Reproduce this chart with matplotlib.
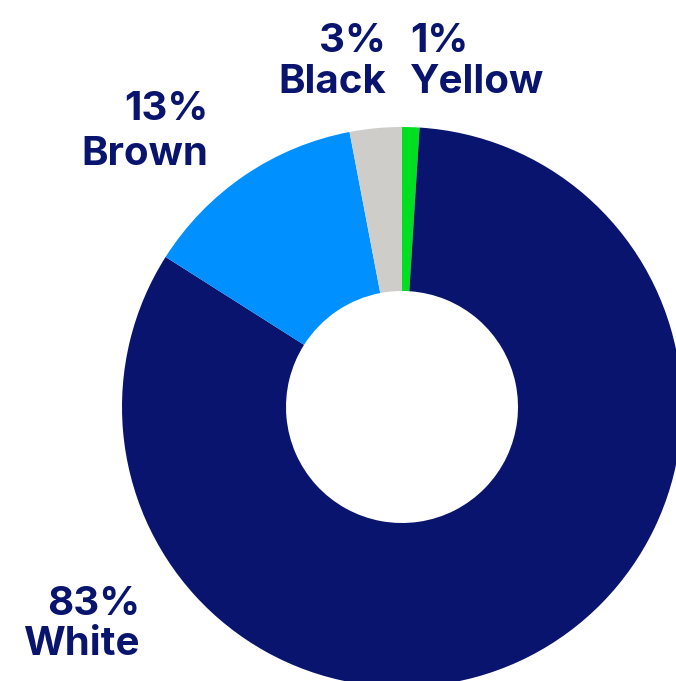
import matplotlib
matplotlib.use("Agg")
import matplotlib.pyplot as plt

plt.rcParams["font.family"] = ["Inter", "DejaVu Sans"]

# Data, clockwise from 12 o'clock
categories = ["Yellow", "White", "Brown", "Black"]
shares = [1, 83, 13, 3]
colors = ["#00e020", "#08146e", "#0090ff", "#cfcdca"]

NAVY = "#08146e"
W, H = 676, 681
CX, CY = 402, 407          # donut centre in pixels
R_OUT, R_IN = 280, 116

# label anchor (pixel x, alignment, baseline of pct line, baseline of name line)
label_pos = {
    "Yellow": (410, "left", 52, 93),
    "Black": (386, "right", 52, 93),
    "Brown": (208, "right", 120, 165),
    "White": (140, "right", 615, 655),
}

fig = plt.figure(figsize=(W / 100, H / 100), dpi=100)
ax = fig.add_axes([0, 0, 1, 1])

ax.pie(shares, colors=colors, startangle=90, counterclock=False,
       radius=R_OUT, wedgeprops=dict(width=R_OUT - R_IN, linewidth=0))

# pie() resets the limits, so set them afterwards
ax.set_xlim(-CX, W - CX)
ax.set_ylim(CY - H, CY)
ax.set_aspect("equal")
ax.axis("off")

for cat, val in zip(categories, shares):
    x, ha, y1, y2 = label_pos[cat]
    ax.text(x - CX, CY - y1, f"{val}%", ha=ha, va="baseline",
            fontsize=29, fontweight="bold", color=NAVY)
    ax.text(x - CX, CY - y2, cat, ha=ha, va="baseline",
            fontsize=29, fontweight="bold", color=NAVY)

fig.savefig("out.png", dpi=100)
